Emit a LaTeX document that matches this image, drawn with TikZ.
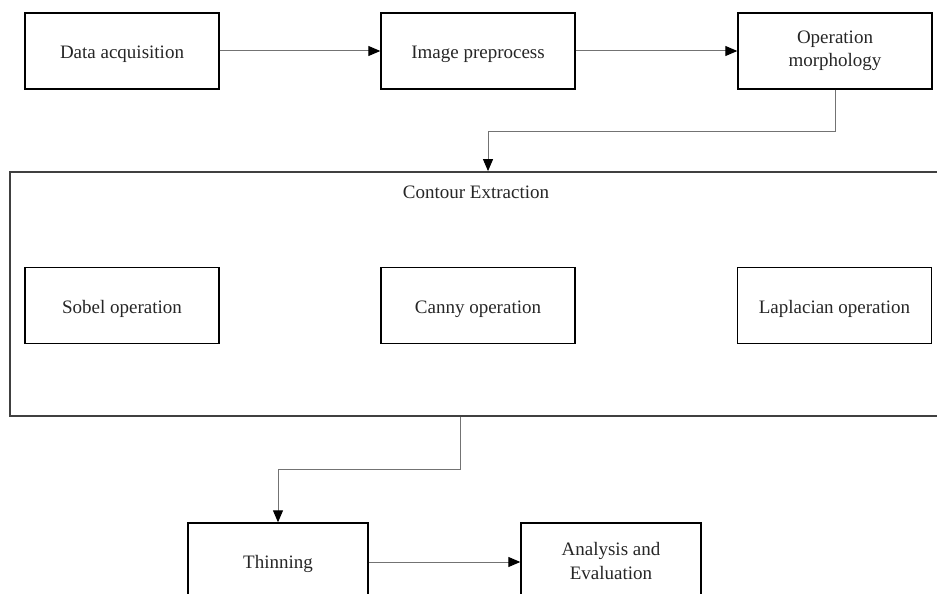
\documentclass[tikz,border=0pt]{standalone}
\usepackage{fontspec}
\setmainfont{Liberation Serif}
\usetikzlibrary{arrows.meta}
\begin{document}
\begin{tikzpicture}[x=1pt,y=-1pt,
  box/.style={draw=black,line width=1.4pt,rectangle,inner sep=0pt,
    minimum width=194pt,minimum height=76pt,align=center,
    font=\fontsize{19}{23.5}\selectfont,text=black!85},
  oneline/.style={text height=15pt,text depth=0pt},
  bigbox/.style={draw=black!75,line width=1.8pt,rectangle,inner sep=0pt},
  conn/.style={draw=black!55,line width=1pt,-{Triangle[length=12pt,width=10pt,black]}},
  lbl/.style={font=\fontsize{19}{23}\selectfont,text=black!85,inner sep=0pt}]
\useasboundingbox (0,0) rectangle (937,594);
\clip (0,0) rectangle (937,594);
% top row
\node[box,oneline] (da) at (122,51) {Data acquisition};
\node[box,oneline] (ip) at (478,51) {Image preprocess};
\node[box] (om) at (835,51) {Operation\\morphology};
% contour extraction container
\node[bigbox,minimum width=960pt,minimum height=244pt] (ce) at (490,294) {};
\node[lbl] (cel) at (476,192) {Contour Extraction};
\node[box,oneline] (sob) at (122,305.5) {Sobel operation};
\node[box,oneline] (can) at (478,305.5) {Canny operation};
\node[box,oneline] (lap) at (834.5,305.5) {Laplacian operation};
% bottom row
\node[box,oneline,minimum width=180pt] (thin) at (278,561) {Thinning};
\node[box,minimum width=180pt] (ae) at (611,561) {Analysis and\\Evaluation};
% connectors
\draw[conn] (da) -- (ip);
\draw[conn] (ip) -- (om);
\coordinate (b1) at (488,131);
\draw[conn] (om.south) |- (b1) -- (b1 |- ce.north);
\coordinate (b2) at (460,469);
\draw[conn] (b2 |- ce.south) -- (b2) -| (thin.north);
\draw[conn] (thin.east |- 0,562) -- (ae.west |- 0,562);
\end{tikzpicture}
\end{document}
